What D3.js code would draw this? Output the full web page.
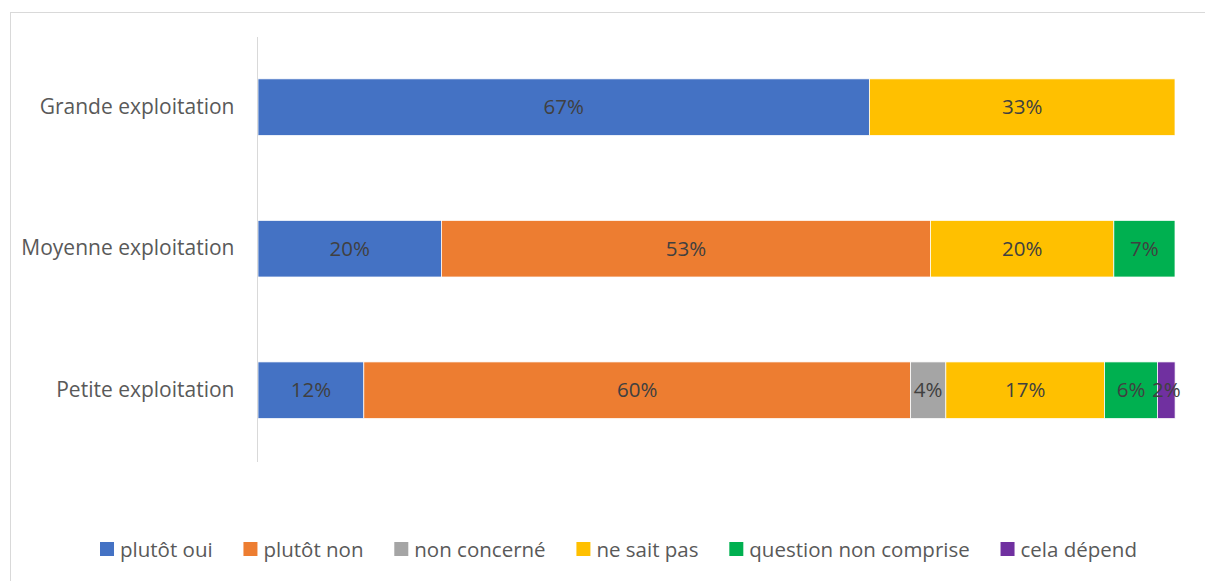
<!DOCTYPE html>
<html>
<head>
<meta charset="utf-8">
<script src="https://cdn.jsdelivr.net/npm/d3@7"></script>
<style>
  html, body { margin: 0; padding: 0; background: #fff; }
  svg { display: block; }
  text { font-family: "Open Sans", "Noto Sans", sans-serif; }
</style>
</head>
<body>
<script>
// Farm size categories, top to bottom
const categories = ["Grande exploitation", "Moyenne exploitation", "Petite exploitation"];

// Answer series (percent of respondents per farm size)
const seriesNames = ["plutôt oui", "plutôt non", "non concerné", "ne sait pas", "question non comprise", "cela dépend"];
const plutotOui = [66.67, 20.0, 11.54];
const plutotNon = [0, 53.33, 59.62];
const nonConcerne = [0, 0, 3.85];
const neSaitPas = [33.33, 20.0, 17.31];
const questionNonComprise = [0, 6.67, 5.77];
const celaDepend = [0, 0, 1.92];

const seriesValues = [plutotOui, plutotNon, nonConcerne, neSaitPas, questionNonComprise, celaDepend];
const colors = ["#4472C4", "#ED7D31", "#A5A5A5", "#FFC000", "#00B050", "#7030A0"];

const W = 1205, H = 581;
const FS = 20.5;
const svg = d3.select("body").append("svg").attr("width", W).attr("height", H);

// Chart frame
svg.append("rect")
  .attr("x", 10.5).attr("y", 12.5)
  .attr("width", W + 20).attr("height", H + 20)
  .attr("fill", "#fff").attr("stroke", "#d9d9d9").attr("stroke-width", 1);

const plot = { left: 258, right: 1175, top: 37, bottom: 462 };

const x = d3.scaleLinear().domain([0, 100]).range([plot.left, plot.right]);
const y = d3.scaleBand().domain(categories).range([plot.top - 0.6, plot.bottom - 1])
  .paddingInner(0.6).paddingOuter(0.3);

// Build stacked rows
const rows = categories.map((c, i) => {
  const r = { category: c };
  seriesNames.forEach((s, k) => { r[s] = seriesValues[k][i]; });
  return r;
});
const stacked = d3.stack().keys(seriesNames)(rows);

const fmt = v => Math.round(v) + "%";

const layers = svg.append("g").selectAll("g").data(stacked).join("g")
  .attr("fill", (d, k) => colors[k]);

layers.selectAll("rect").data(d => d.filter(p => p[1] - p[0] > 0)).join("rect")
  .attr("x", p => x(p[0]))
  .attr("y", p => y(p.data.category))
  .attr("width", p => x(p[1]) - x(p[0]))
  .attr("height", y.bandwidth())
  .attr("stroke", "#fff").attr("stroke-width", 0.75);

// Data labels
stacked.forEach((layer, k) => {
  svg.append("g").selectAll("text").data(layer.filter(p => p[1] - p[0] > 0)).join("text")
    .attr("x", p => (x(p[0]) + x(p[1])) / 2)
    .attr("y", p => y(p.data.category) + y.bandwidth() / 2)
    .attr("dy", "0.35em")
    .attr("text-anchor", "middle")
    .attr("font-size", FS)
    .attr("fill", "#404040")
    .text(p => fmt(p[1] - p[0]));
});

// Vertical category axis
const yAxis = svg.append("g").attr("transform", `translate(${plot.left - 0.5},0)`)
  .call(d3.axisLeft(y).tickSize(0).tickPadding(23));
yAxis.select(".domain").attr("stroke", "#d9d9d9").attr("d", `M0,${plot.top}V${plot.bottom}`);
yAxis.selectAll("text").attr("font-size", 21).attr("fill", "#595959")
  .style("font-family", '"Open Sans", "Noto Sans", sans-serif');

// Legend
const legend = svg.append("g");
const items = legend.selectAll("g").data(seriesNames).join("g");
items.append("rect").attr("width", 14).attr("height", 14).attr("y", -7.5)
  .attr("fill", (d, k) => colors[k]);
items.append("text").attr("x", 20).attr("dy", "0.35em")
  .attr("font-size", FS).attr("fill", "#595959").text(d => d);
const widths = [];
items.each(function () { widths.push(this.getBBox().width); });
const gap = 30.8;
const total = d3.sum(widths) + gap * (widths.length - 1);
let cx = 618.5 - total / 2;
items.attr("transform", (d, k) => {
  const t = `translate(${cx},549.5)`;
  cx += widths[k] + gap;
  return t;
});
</script>
</body>
</html>
